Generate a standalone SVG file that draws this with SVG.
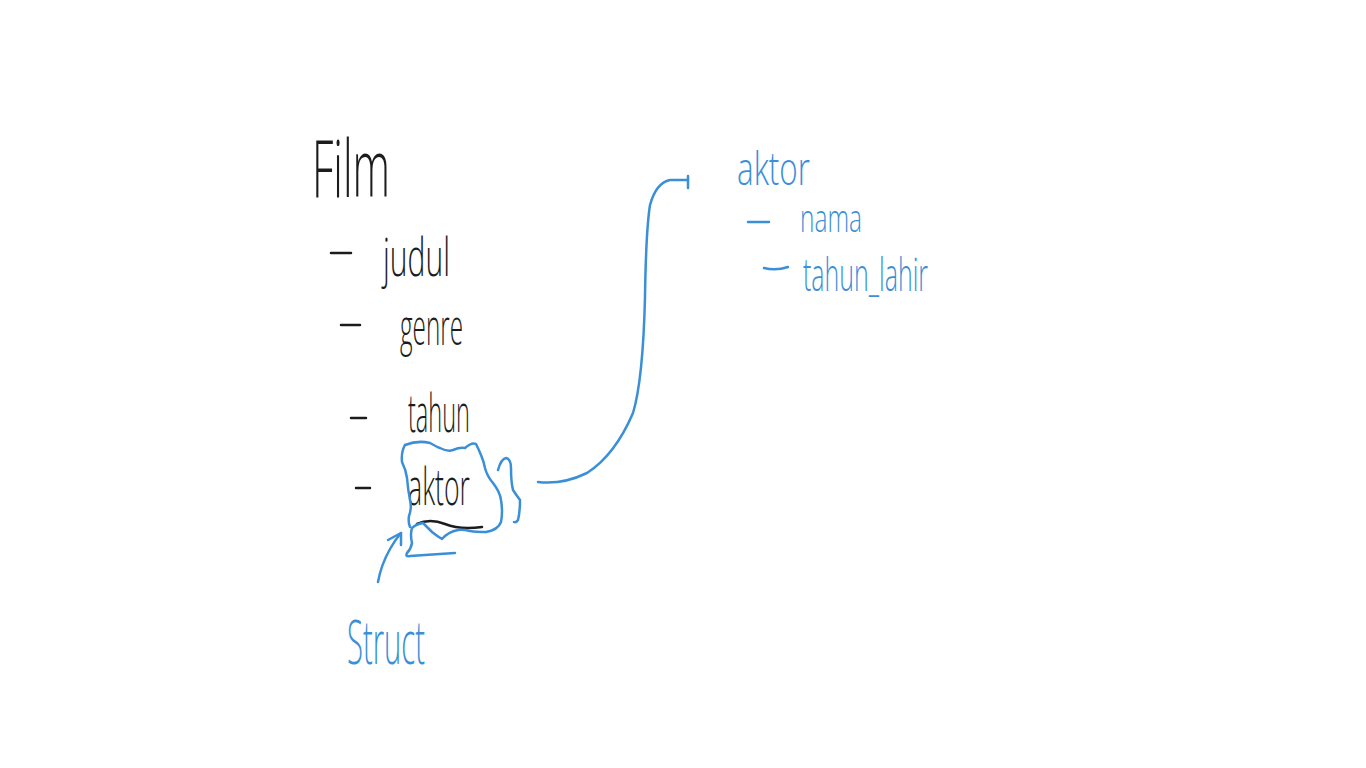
<svg xmlns="http://www.w3.org/2000/svg" width="1366" height="768" viewBox="0 0 1366 768">
<style>
.k{font-family:"Open Sans","Liberation Sans",sans-serif;font-weight:300;fill:#1c1c1c}
.b{font-family:"Open Sans","Liberation Sans",sans-serif;font-weight:300;fill:#3a8fd8}
.ks{fill:none;stroke:#1c1c1c;stroke-width:2.5;stroke-linecap:round;stroke-linejoin:round}
.bs{fill:none;stroke:#3a8fd8;stroke-width:2.5;stroke-linecap:round;stroke-linejoin:round}
</style>
<rect width="1366" height="768" fill="#ffffff"/>
<g id="film">
<text class="k" x="312" y="197" font-size="80" textLength="78" lengthAdjust="spacingAndGlyphs">Film</text>
<path class="ks" d="M331 253 L351 253"/>
<text class="k" x="383" y="276" font-size="54" textLength="67" lengthAdjust="spacingAndGlyphs">judul</text>
<path class="ks" d="M341 325 L360 325"/>
<text class="k" x="400" y="345" font-size="50" textLength="63" lengthAdjust="spacingAndGlyphs">genre</text>
<path class="ks" d="M351 418 L366 418"/>
<text class="k" x="408" y="432" font-size="54" textLength="62" lengthAdjust="spacingAndGlyphs">tahun</text>
<path class="ks" d="M356 488 L370 488"/>
<text class="k" x="408" y="505" font-size="52" textLength="62" lengthAdjust="spacingAndGlyphs">aktor</text>
<path class="ks" d="M417 524 Q430 518 445 524 T482 527"/>
</g>
<g id="aktor-highlight">
<path class="bs" d="M405 445 Q418 440 430 443 Q437 447 440 448 Q448 452 453 450 Q460 447 465 448 Q472 442 476 444 Q479 450 481 455 Q484 462 485 468 Q487 476 493 483 Q500 492 501 500 Q503 512 501 522 Q498 530 486 532 Q476 532 470 531 Q462 529 458 530 Q448 532 442 539 Q437 536 432 532 Q426 526 423 523 Q416 524 412 528 Q410 534 412 543 Q411 549 407 553 Q405 557 410 556 L455 553"/>
<path class="bs" d="M405 445 Q401 452 402 462 Q406 470 407 478 Q408 490 410 500 Q412 508 409 516 Q408 522 410 527"/>
<path class="bs" d="M498 470 Q501 459 506 458 Q511 459 511 468 Q511 482 513 490 Q517 496 520 500 Q520 512 518 520 Q516 523 514 522"/>
</g>
<g id="struct">
<text class="b" x="347" y="664" font-size="60" textLength="78" lengthAdjust="spacingAndGlyphs">Struct</text>
</g>
<g id="aktor">
<text class="b" x="737" y="185" font-size="46" textLength="73" lengthAdjust="spacingAndGlyphs">aktor</text>
<path class="bs" d="M748 222 L769 222"/>
<text class="b" x="800" y="232" font-size="38" textLength="62" lengthAdjust="spacingAndGlyphs">nama</text>
<path class="bs" d="M764 268 Q776 271 788 267"/>
<text class="b" x="803" y="291" font-size="46" textLength="125" lengthAdjust="spacingAndGlyphs">tahun_lahir</text>
</g>
<g id="connectors">
<path class="bs" d="M538 482 Q562 485 587 473 Q615 455 633 413 Q643 380 645 297 Q646 230 650 205 Q656 183 670 180 L688 180"/>
<path class="bs" d="M688 176 L688 188" stroke-width="3.5"/>
<path class="bs" d="M378 582 Q381 565 390 549 Q395 540 401 533"/>
<path class="bs" d="M388 540 L401 533 L401 545"/>
</g>
</svg>
